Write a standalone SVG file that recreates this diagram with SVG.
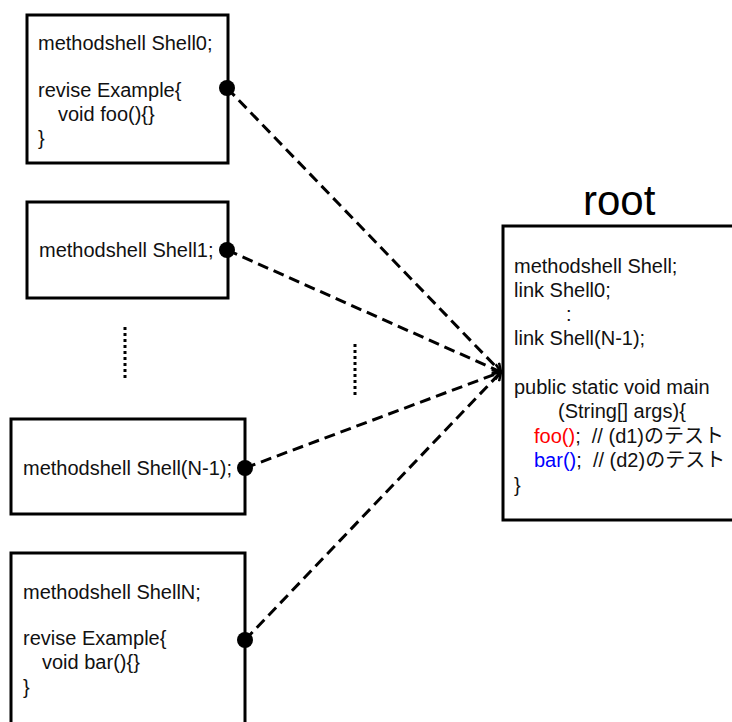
<svg xmlns="http://www.w3.org/2000/svg" width="732" height="722" viewBox="0 0 732 722">
  <style>
    .box { fill: #ffffff; stroke: #000000; stroke-width: 3; }
    .t { font-family: "Liberation Sans", "Noto Sans CJK JP", sans-serif; font-size: 20px; fill: #111111; white-space: pre; }
    .title { font-family: "Liberation Sans", sans-serif; font-size: 42px; fill: #000000; }
    .link { fill: none; stroke: #000000; stroke-width: 3; stroke-dasharray: 11 6; marker-end: url(#arrow); }
    .dots { fill: none; stroke: #000000; stroke-width: 3; stroke-dasharray: 3 3; }
    .pin { fill: #000000; }
    .red { fill: #ff0000; }
    .blue { fill: #0000ff; }
  </style>
  <defs>
    <marker id="arrow" viewBox="0 0 12 12" refX="10" refY="6" markerWidth="12" markerHeight="12" markerUnits="userSpaceOnUse" orient="auto">
      <polyline points="2,1 10,6 2,11" fill="none" stroke="#000000" stroke-width="2.5"/>
    </marker>
  </defs>

  <!-- shell 0 -->
  <g id="shell0">
    <rect class="box" x="27" y="15" width="201" height="148"/>
    <text class="t" x="38" y="50">methodshell Shell0;</text>
    <text class="t" x="38" y="97">revise Example{</text>
    <text class="t" x="58" y="121">void foo(){}</text>
    <text class="t" x="38" y="145">}</text>
  </g>

  <!-- shell 1 -->
  <g id="shell1">
    <rect class="box" x="27" y="202" width="201" height="96"/>
    <text class="t" x="39" y="257">methodshell Shell1;</text>
  </g>

  <!-- shell N-1 -->
  <g id="shellN1">
    <rect class="box" x="11" y="419" width="234" height="95"/>
    <text class="t" x="23" y="475">methodshell Shell(N-1);</text>
  </g>

  <!-- shell N -->
  <g id="shellN">
    <rect class="box" x="11" y="553" width="234" height="180"/>
    <text class="t" x="23" y="599">methodshell ShellN;</text>
    <text class="t" x="23" y="645">revise Example{</text>
    <text class="t" x="42" y="669">void bar(){}</text>
    <text class="t" x="23" y="694">}</text>
  </g>

  <!-- root -->
  <g id="root">
    <text class="title" x="583" y="215">root</text>
    <rect class="box" x="503" y="226" width="240" height="294"/>
    <text class="t" x="514" y="273">methodshell Shell;</text>
    <text class="t" x="514" y="297">link Shell0;</text>
    <text class="t" x="566" y="321">:</text>
    <text class="t" x="514" y="345">link Shell(N-1);</text>
    <text class="t" x="514" y="394">public static void main</text>
    <text class="t" x="558" y="418">(String[] args){</text>
    <text class="t" x="534" y="443"><tspan class="red">foo()</tspan>;  // (d1)のテスト</text>
    <text class="t" x="534" y="467"><tspan class="blue">bar()</tspan>;  // (d2)のテスト</text>
    <text class="t" x="514" y="492">}</text>
  </g>

  <!-- ellipsis marks -->
  <g id="ellipsis">
    <line class="dots" x1="125" y1="327" x2="125" y2="381"/>
    <line class="dots" x1="355" y1="344" x2="355" y2="398"/>
  </g>

  <!-- connectors -->
  <g id="connectors">
    <line class="link" x1="227" y1="88" x2="501" y2="372"/>
    <line class="link" x1="227" y1="250" x2="501" y2="372"/>
    <line class="link" x1="245" y1="468" x2="501" y2="372"/>
    <line class="link" x1="245" y1="640" x2="501" y2="372"/>
    <circle class="pin" cx="227" cy="88" r="8"/>
    <circle class="pin" cx="227" cy="250" r="8"/>
    <circle class="pin" cx="245" cy="468" r="8"/>
    <circle class="pin" cx="245" cy="640" r="8"/>
  </g>
</svg>
